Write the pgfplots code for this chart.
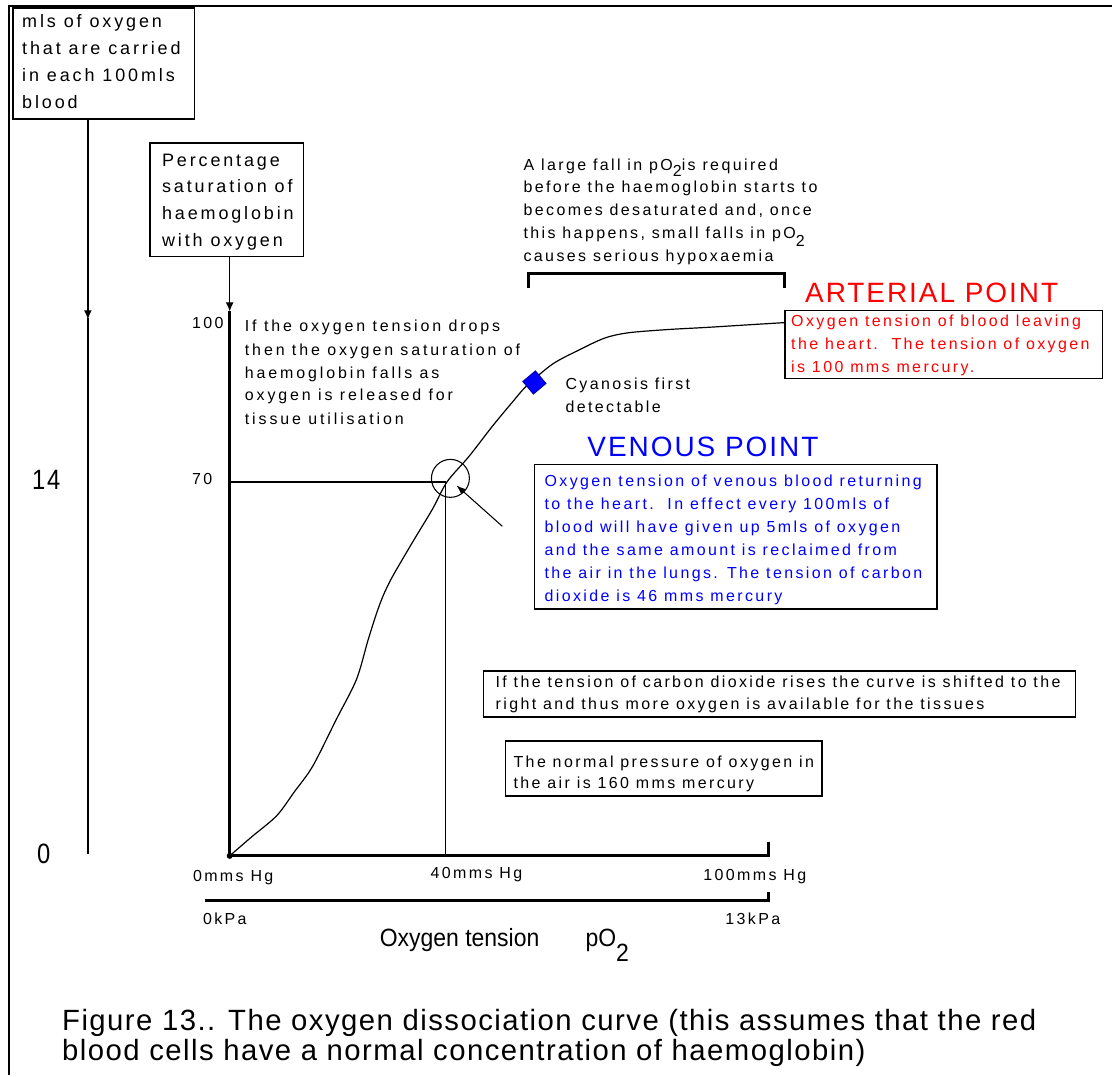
\documentclass[border=0pt]{standalone}
\usepackage{pgfplots}
\pgfplotsset{compat=1.18}
\usepackage{pgfplotstable}
\usepackage{graphicx}
\usepackage{fontspec}
\usetikzlibrary{arrows.meta}
\setmainfont{Liberation Sans}
\newfontfamily\smf[LetterSpace=15]{Liberation Sans}
\newfontfamily\smwf[LetterSpace=18]{Liberation Sans}
\newfontfamily\mdf[LetterSpace=16]{Liberation Sans}
\newfontfamily\bgf[LetterSpace=7]{Liberation Sans}
\newfontfamily\capf[LetterSpace=5]{Liberation Sans}
\newcommand\SM{\smf\fontsize{12}{14}\selectfont}
\newcommand\SMW{\smwf\fontsize{12}{14}\selectfont}
\newcommand\MD{\mdf\fontsize{13.5}{16}\selectfont}
\newcommand\BG{\bgf\fontsize{21}{24}\selectfont}
\newcommand\CP{\capf\fontsize{22}{26}\selectfont}
\newcommand\T[4][]{\node[anchor=base west,inner sep=0pt,#1] at (#2,#3) {#4};}
\definecolor{pblue}{RGB}{0,0,255}
\definecolor{pred}{RGB}{255,0,0}

\pgfplotstableread{
p s
0 0
4 3.5
8.7 7.5
12 12
15.4 16.8
19.8 25.6
23.5 33.0
25.6 40.2
27.2 45.3
28.5 48.8
30.2 52.3
33.9 58.7
37.6 64.9
40.3 70.0
44.4 74.8
48.7 80.4
52.4 84.9
55.0 87.9
59.8 92.0
64.6 94.6
69.5 96.9
73.9 97.9
81.1 98.5
88.3 98.9
96.3 99.4
102.8 99.8
}\curve

\begin{document}
\begin{tikzpicture}
\begin{scope}[x=0.75pt,y=-0.75pt]
\path[use as bounding box] (0,0) rectangle (1113,1076);
\end{scope}
\begin{axis}[at={(0,0)},anchor=north west,scale only axis,
  width=834.75pt,height=807pt,
  xmin=-42.5926,xmax=163.5185,ymin=-40.9346,ymax=160.1869,
  hide axis,clip=false]
% axes (saturation and oxygen tension)
\addplot[black,line width=2.25pt,line join=miter] coordinates {(0,101.9) (0,0) (100,0) (100,2.6)};
\addplot[black,line width=2.25pt,line join=miter] coordinates {(-4.63,-8.41) (100,-8.41) (100,-6.73)};
% venous point guide lines
\addplot[black,line width=1pt] coordinates {(0,70) (40,70) (40,0)};
% dissociation curve
\addplot[black,line width=0.9pt,smooth,tension=0.5] table[x=p,y=s]{\curve};
% cyanosis marker
\addplot[only marks,mark=square*,mark size=6.2pt,
  mark options={rotate=40,fill=pblue,draw=pblue!60!black,line width=0.6pt}]
  coordinates {(56.5,88.6)};
\end{axis}
\begin{scope}[x=0.75pt,y=-0.75pt]
% frame
\draw[line width=2.2pt] (9,1076)--(9,6)--(1113,6);
% boxes
\draw[line width=1.1pt] (13,8) rectangle (195,119);
\draw[line width=1.1pt] (150,143) rectangle (304,257);
\draw[line width=1.1pt] (786,311) rectangle (1104,379);
\draw[line width=1.1pt] (535,465) rectangle (938,610);
\draw[line width=1.1pt] (484,672) rectangle (1077,718);
\draw[line width=1.1pt] (506,742) rectangle (823,797);
% bracket
\draw[line width=2.25pt] (529,288)--(529,274)--(786,274)--(786,288);
% vertical arrows
\draw[line width=1pt,-{Latex[length=7pt,width=6pt]}] (88,119)--(88,320);
\draw[line width=1pt] (88,318)--(88,855);
\draw[line width=1pt,-{Latex[length=7pt,width=6pt]}] (230,257)--(230,312);
% circle and arrow at venous point
\draw[line width=0.8pt] (451,479) circle[radius=19];
\draw[line width=0.8pt,-{Latex[length=7pt,width=5pt]}] (503,527)--(457,486);
\fill (230,857) circle[radius=3];

% medium text
\begin{scope}[every node/.append style={font=\MD}]
\T{22}{28}{mls of oxygen}
\T{22}{55}{that are carried}
\T{22}{82}{in each 100mls}
\T{22}{109}{blood}
\T{162}{167}{Percentage}
\T{162}{193}{saturation of}
\T{162}{220}{haemoglobin}
\T{162}{247}{with oxygen}
\end{scope}

% small text
\begin{scope}[every node/.append style={font=\SMW}]
\T{245}{332}{If the oxygen tension drops}
\T{245}{356}{then the oxygen saturation of}
\T{245}{379}{haemoglobin falls as}
\T{245}{401}{oxygen is released for}
\T{245}{425}{tissue utilisation}
\end{scope}
\begin{scope}[every node/.append style={font=\SM}]
\T{192}{329}{100}
\T{192}{485}{70}
\T{524}{171}{A large fall in pO\raisebox{-4.5pt}{2}is required}
\T{524}{193}{before the haemoglobin starts to}
\T{524}{216}{becomes desaturated and, once}
\T{524}{239}{this happens, small falls in pO\raisebox{-6pt}{2}}
\T{524}{262}{causes serious hypoxaemia}
\T{566}{390}{Cyanosis first}
\T{566}{413}{detectable}
\T[pred]{792}{327}{Oxygen tension of blood leaving}
\T[pred]{792}{350}{the heart.\ \ The tension of oxygen}
\T[pred]{792}{373}{is 100 mms mercury.}
\T[pblue]{545}{487}{Oxygen tension of venous blood returning}
\T[pblue]{545}{510}{to the heart.\ \ In effect every 100mls of}
\T[pblue]{545}{533}{blood will have given up 5mls of oxygen}
\T[pblue]{545}{556}{and the same amount is reclaimed from}
\T[pblue]{545}{579}{the air in the lungs. The tension of carbon}
\T[pblue]{545}{602}{dioxide is 46 mms mercury}
\T{496}{688}{If the tension of carbon dioxide rises the curve is shifted to the}
\T{496}{710}{right and thus more oxygen is available for the tissues}
\T{514}{769}{The normal pressure of oxygen in}
\T{514}{790}{the air is 160 mms mercury}
\T{193}{883}{0mms Hg}
\T{431}{880}{40mms Hg}
\T{704}{882}{100mms Hg}
\T{203}{926}{0kPa}
\T{726}{926}{13kPa}
\end{scope}

% big text
\begin{scope}[every node/.append style={font=\BG}]
\T[pred]{806}{303}{ARTERIAL POINT}
\T[pblue]{588}{457}{VENOUS POINT}
\T{32}{490}{\scalebox{0.85}[1]{14}}
\T{37}{865}{\scalebox{0.85}[1]{0}}
\end{scope}
\begin{scope}[every node/.append style={font=\fontsize{18.75}{22}\selectfont}]
\T{380}{948}{\scalebox{0.92}[1]{Oxygen tension}}
\T{586}{948}{\scalebox{0.92}[1]{pO\raisebox{-11pt}{2}}}
\end{scope}
\begin{scope}[every node/.append style={font=\CP}]
\T{62}{1032}{Figure 13.. The oxygen dissociation curve (this assumes that the red}
\T{62}{1062}{blood cells have a normal concentration of haemoglobin)}
\end{scope}
\end{scope}
\end{tikzpicture}
\end{document}
